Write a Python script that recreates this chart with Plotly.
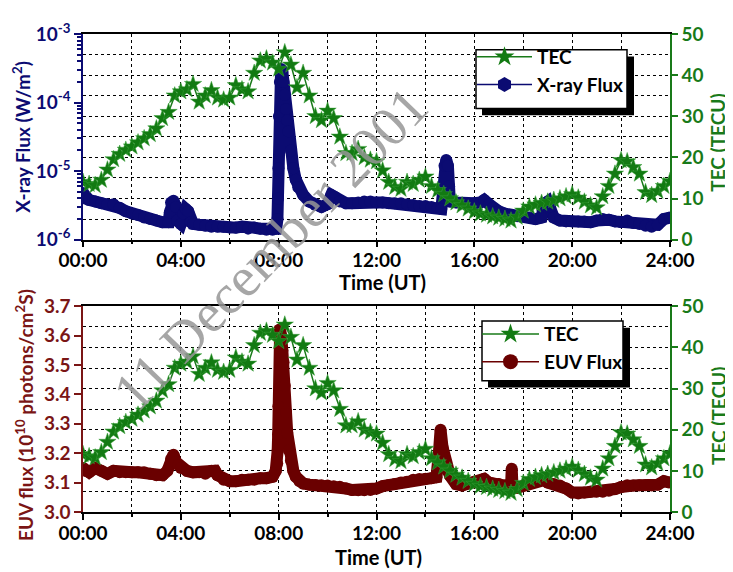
import plotly.graph_objects as go

# ---------------- data ----------------
tec_time = [i * 0.25 for i in range(97)]
tec_values = [
    14.0, 13.5, 13.2, 14.5, 17.0, 19.5, 20.8, 21.8, 22.6, 23.6, 24.6, 25.6,
    27.0, 29.5, 31.0, 35.0, 36.0, 36.5, 37.8, 33.5, 35.0, 36.3, 34.5, 34.0,
    34.5, 37.5, 36.5, 36.0, 40.5, 43.5, 44.0, 43.0, 41.5, 45.5, 42.5, 37.0,
    40.5, 35.0, 30.0, 29.0, 31.3, 29.5, 25.0, 21.0, 21.0, 22.0, 20.0, 19.4,
    19.0, 16.8, 14.0, 12.8, 12.3, 14.0, 13.5, 14.5, 15.3, 13.0, 12.0, 11.0,
    10.0, 9.0, 8.3, 7.5, 6.8, 6.3, 6.0, 5.6, 5.3, 5.0, 4.6, 5.5,
    7.0, 8.0, 8.5, 8.9, 9.2, 9.6, 10.0, 10.5, 11.0, 10.2, 9.2, 8.3,
    7.8, 10.5, 13.0, 16.0, 19.3, 19.0, 17.6, 16.0, 11.5, 10.8, 11.8, 13.0,
    14.2,
]

xray_time = [
    0.0, 0.1, 0.25, 0.5, 0.75, 1.0, 1.25, 1.5, 1.75, 2.0, 2.25, 2.5, 2.75,
    3.0, 3.25, 3.5, 3.55, 3.6, 3.7, 3.8, 3.85, 4.0, 4.1, 4.2, 4.3, 4.4, 4.5,
    4.75, 5.0, 5.25, 5.5, 5.75, 6.0, 6.25, 6.5, 6.75, 7.0, 7.25, 7.5, 7.75,
    7.9, 7.95, 7.97, 7.99, 8.01, 8.05, 8.1, 8.15, 8.2, 8.25, 8.3, 8.35, 8.4,
    8.5, 8.6, 8.7, 8.8, 9.0, 9.25, 9.5, 9.75, 10.0, 10.15, 10.3, 10.5, 10.75,
    11.0, 11.25, 11.5, 11.75, 12.0, 12.25, 12.5, 12.75, 13.0, 13.25, 13.5,
    13.75, 14.0, 14.25, 14.5, 14.65, 14.72, 14.78, 14.85, 14.92, 14.97, 15.0,
    15.25, 15.5, 15.75, 16.0, 16.25, 16.4, 16.6, 16.75, 17.0, 17.25, 17.5,
    17.75, 18.0, 18.25, 18.5, 18.75, 18.85, 19.0, 19.1, 19.25, 19.5, 19.75,
    20.0, 20.25, 20.5, 20.75, 21.0, 21.25, 21.5, 21.75, 22.0, 22.25, 22.5,
    22.75, 23.0, 23.25, 23.5, 23.75, 24.0,
]
xray_flux = [
    4.8e-6, 4.0e-6, 3.8e-6, 3.6e-6, 3.4e-6, 3.3e-6, 3.3e-6, 2.9e-6, 2.6e-6,
    2.4e-6, 2.3e-6, 2.1e-6, 2.0e-6, 1.9e-6, 1.8e-6, 1.8e-6, 2.5e-6, 3.5e-6,
    3.7e-6, 3.0e-6, 1.9e-6, 1.7e-6, 2.4e-6, 2.8e-6, 2.6e-6, 1.8e-6, 1.7e-6,
    1.65e-6, 1.6e-6, 1.55e-6, 1.55e-6, 1.55e-6, 1.5e-6, 1.5e-6, 1.55e-6,
    1.45e-6, 1.5e-6, 1.45e-6, 1.4e-6, 1.4e-6, 1.45e-6, 2.0e-6, 4.0e-6,
    1.1e-5, 6.3e-5, 2.0e-4, 3.1e-4, 2.8e-4, 2.0e-4, 1.3e-4, 8e-5, 5.5e-5,
    3.8e-5, 2e-5, 1.1e-5, 7.5e-6, 5.8e-6, 4.5e-6, 3.6e-6, 3.2e-6, 3.0e-6,
    3.3e-6, 4.5e-6, 4.2e-6, 3.6e-6, 3.4e-6, 3.4e-6, 3.5e-6, 3.6e-6, 3.6e-6,
    3.5e-6, 3.5e-6, 3.4e-6, 3.4e-6, 3.4e-6, 3.3e-6, 3.2e-6, 3.1e-6, 3.1e-6,
    3.0e-6, 2.9e-6, 2.8e-6, 5e-6, 1.2e-5, 1.45e-5, 1.2e-5, 6e-6, 3.6e-6,
    3.5e-6, 3.4e-6, 3.3e-6, 3.4e-6, 3.5e-6, 3.8e-6, 3.3e-6, 2.9e-6, 2.6e-6,
    2.4e-6, 2.3e-6, 2.2e-6, 2.2e-6, 2.1e-6, 2.0e-6, 2.1e-6, 3.3e-6, 3.6e-6,
    3.0e-6, 2.1e-6, 1.9e-6, 1.85e-6, 1.85e-6, 1.85e-6, 1.85e-6, 1.8e-6,
    1.9e-6, 2.0e-6, 1.95e-6, 1.85e-6, 1.8e-6, 1.9e-6, 1.75e-6, 1.7e-6,
    1.6e-6, 1.55e-6, 1.65e-6, 2.0e-6, 2.1e-6,
]

euv_time = [
    0.0, 0.1, 0.25, 0.5, 0.75, 1.0, 1.25, 1.5, 1.75, 2.0, 2.25, 2.5, 2.75,
    3.0, 3.25, 3.45, 3.6, 3.7, 3.8, 3.9, 4.0, 4.25, 4.5, 4.75, 5.0, 5.25,
    5.4, 5.5, 5.75, 6.0, 6.25, 6.5, 6.75, 7.0, 7.25, 7.5, 7.75, 7.88, 7.94,
    7.96, 7.98, 7.99, 8.02, 8.06, 8.1, 8.15, 8.2, 8.25, 8.3, 8.35, 8.42, 8.5,
    8.6, 8.7, 8.85, 9.0, 9.25, 9.5, 9.75, 10.0, 10.25, 10.5, 10.75, 11.0,
    11.25, 11.5, 11.75, 12.0, 12.25, 12.5, 12.75, 13.0, 13.25, 13.5, 13.75,
    14.0, 14.25, 14.45, 14.55, 14.62, 14.7, 14.8, 14.9, 15.0, 15.25, 15.5,
    15.75, 16.0, 16.25, 16.4, 16.6, 16.75, 17.0, 17.25, 17.5, 17.53, 17.56,
    17.75, 18.0, 18.25, 18.5, 18.75, 18.9, 19.0, 19.25, 19.5, 19.75, 20.0,
    20.25, 20.5, 20.75, 21.0, 21.25, 21.5, 21.75, 22.0, 22.25, 22.5, 22.75,
    23.0, 23.25, 23.5, 23.75, 24.0,
]
euv_flux = [
    3.150, 3.140, 3.135, 3.150, 3.140, 3.130, 3.140, 3.135, 3.135, 3.135,
    3.135, 3.135, 3.130, 3.125, 3.125, 3.140, 3.180, 3.195, 3.170, 3.160,
    3.150, 3.140, 3.135, 3.135, 3.130, 3.140, 3.140, 3.125, 3.110, 3.105,
    3.105, 3.110, 3.110, 3.110, 3.115, 3.115, 3.120, 3.140, 3.165, 3.210,
    3.265, 3.360, 3.620, 3.620, 3.600, 3.550, 3.510, 3.430, 3.340, 3.270,
    3.210, 3.175, 3.140, 3.120, 3.105, 3.097, 3.093, 3.092, 3.091, 3.090,
    3.088, 3.086, 3.080, 3.075, 3.074, 3.074, 3.075, 3.080, 3.088, 3.092,
    3.095, 3.100, 3.103, 3.110, 3.112, 3.113, 3.115, 3.118, 3.200, 3.280,
    3.220, 3.170, 3.140, 3.124, 3.095, 3.090, 3.097, 3.100, 3.105, 3.113,
    3.100, 3.097, 3.095, 3.090, 3.086, 3.147, 3.086, 3.082, 3.090, 3.097,
    3.105, 3.113, 3.110, 3.100, 3.095, 3.090, 3.080, 3.066, 3.063, 3.066,
    3.069, 3.069, 3.069, 3.072, 3.078, 3.085, 3.091, 3.090, 3.091, 3.091,
    3.090, 3.093, 3.105, 3.100,
]

hour_ticks = [0, 4, 8, 12, 16, 20, 24]
hour_labels = ["00:00", "04:00", "08:00", "12:00", "16:00", "20:00", "24:00"]
hour_minor = [2, 6, 10, 14, 18, 22]
xray_ticks = [1e-6, 1e-5, 1e-4, 1e-3]
xray_labels = ["10<sup>-6</sup>", "10<sup>-5</sup>", "10<sup>-4</sup>", "10<sup>-3</sup>"]
xray_minor = [m * 10.0 ** e for e in (-6, -5, -4) for m in range(2, 10)]

# ---------------- geometry (page pixels; page body has an 8px margin) ----------------
OFF = 8
W, H = 733 - OFF, 572 - OFF
ML, MR, MT, MB = 83 - OFF, 733 - 670, 24 - OFF, 572 - 512
PW, PH = 670 - 83, 512 - 24

def px(x):
    return (x - 83) / PW

def py(y):
    return (512 - y) / PH

NAVY = "#0b0b72"
GREEN = "#197a19"
STAR = "#127a12"
MAROON = "#6a0000"
MAROON_T = "#7a1515"
FONT = "Lato"

fig = go.Figure()

# top panel
fig.add_trace(go.Scatter(x=xray_time, y=xray_flux, mode="lines+markers",
                         line=dict(color=NAVY, width=12),
                         marker=dict(symbol="circle", size=12, color=NAVY),
                         showlegend=False, xaxis="x", yaxis="y"))
fig.add_trace(go.Scatter(x=tec_time, y=tec_values, mode="lines+markers",
                         line=dict(color=GREEN, width=1.5),
                         marker=dict(symbol="star", size=13, color=STAR,
                                     line=dict(color="#3aa03a", width=0.5)),
                         showlegend=False, xaxis="x", yaxis="y2"))
# bottom panel
fig.add_trace(go.Scatter(x=euv_time, y=euv_flux, mode="lines+markers",
                         line=dict(color=MAROON, width=12),
                         marker=dict(symbol="circle", size=12, color=MAROON),
                         showlegend=False, xaxis="x2", yaxis="y3"))
fig.add_trace(go.Scatter(x=tec_time, y=tec_values, mode="lines+markers",
                         line=dict(color=GREEN, width=1.5),
                         marker=dict(symbol="star", size=13, color=STAR,
                                     line=dict(color="#3aa03a", width=0.5)),
                         showlegend=False, xaxis="x2", yaxis="y4"))

# legend entries
fig.add_trace(go.Scatter(x=[None], y=[None], mode="lines+markers", name="TEC",
                         line=dict(color=GREEN, width=1.5),
                         marker=dict(symbol="star", size=15, color=STAR),
                         legend="legend", xaxis="x", yaxis="y2"))
fig.add_trace(go.Scatter(x=[None], y=[None], mode="lines+markers", name="X-ray Flux",
                         line=dict(color=NAVY, width=1.5),
                         marker=dict(symbol="hexagon", size=15, color=NAVY),
                         legend="legend", xaxis="x", yaxis="y"))
fig.add_trace(go.Scatter(x=[None], y=[None], mode="lines+markers", name="TEC",
                         line=dict(color=GREEN, width=1.5),
                         marker=dict(symbol="star", size=15, color=STAR),
                         legend="legend2", xaxis="x2", yaxis="y4"))
fig.add_trace(go.Scatter(x=[None], y=[None], mode="lines+markers", name="EUV Flux",
                         line=dict(color=MAROON, width=1.5),
                         marker=dict(symbol="circle", size=15, color=MAROON),
                         legend="legend2", xaxis="x2", yaxis="y3"))

top_dom = [py(234), py(24)]
bot_dom = [py(512), py(302)]

tickfont_black = dict(family=FONT, size=19, color="black", weight="bold")

def xaxis_cfg(anchor):
    return dict(domain=[0, 1], anchor=anchor, range=[0, 24],
                tickmode="array", tickvals=hour_ticks, ticktext=hour_labels,
                tickfont=tickfont_black, ticks="outside", ticklen=6, tickwidth=1.5,
                tickcolor="black", showline=True, linecolor="black", linewidth=1.5,
                mirror=True, showgrid=True, gridcolor="black", griddash="dot",
                gridwidth=1, zeroline=False, ticklabelstandoff=-3,
                minor=dict(tickmode="array", tickvals=hour_minor, showgrid=True,
                           gridcolor="black", griddash="dot", gridwidth=1,
                           ticks="outside", ticklen=3, tickcolor="black"))

def tec_cfg(overlay):
    return dict(overlaying=overlay, side="right", range=[0, 50], dtick=10, tick0=0,
                tickfont=dict(family=FONT, size=19, color=GREEN, weight="bold"),
                ticks="outside", ticklen=6, tickwidth=1.5, tickcolor=GREEN,
                showline=True, linecolor=GREEN, linewidth=1.5,
                showgrid=True, gridcolor="black", griddash="dot", gridwidth=1,
                zeroline=False,
                minor=dict(dtick=5, tick0=0, showgrid=True, gridcolor="black",
                           griddash="dot", gridwidth=1))

legend_font = dict(family=FONT, size=19, color="black", weight="bold")

fig.update_layout(
    width=W, height=H, margin=dict(l=ML, r=MR, t=MT, b=MB),
    paper_bgcolor="white", plot_bgcolor="white",
    xaxis=xaxis_cfg("y"),
    xaxis2=xaxis_cfg("y3"),
    yaxis=dict(domain=top_dom, anchor="x", type="log", range=[-6, -3],
               tickmode="array", tickvals=xray_ticks, ticktext=xray_labels,
               tickfont=dict(family=FONT, size=19, color=NAVY, weight="bold"),
               ticks="outside", ticklen=7, tickwidth=1.5, tickcolor=NAVY,
               showline=True, linecolor=NAVY, linewidth=1.5, showgrid=False,
               zeroline=False,
               minor=dict(tickmode="array", tickvals=xray_minor, ticks="outside",
                          ticklen=4, tickcolor=NAVY, showgrid=False)),
    yaxis2=tec_cfg("y"),
    yaxis3=dict(domain=bot_dom, anchor="x2", range=[3.0, 3.7], dtick=0.1, tick0=3.0,
                tickformat=".1f",
                tickfont=dict(family=FONT, size=19, color=MAROON_T, weight="bold"),
                ticks="outside", ticklen=7, tickwidth=1.5, tickcolor=MAROON_T,
                showline=True, linecolor=MAROON_T, linewidth=1.5, showgrid=False,
                zeroline=False),
    yaxis4=tec_cfg("y3"),
    legend=dict(x=px(472), y=py(28), xanchor="left", yanchor="top",
                bgcolor="rgba(0,0,0,0)", borderwidth=0, itemwidth=55,
                font=legend_font, tracegroupgap=0, traceorder="normal"),
    legend2=dict(x=px(477), y=py(311), xanchor="left", yanchor="top",
                 bgcolor="rgba(0,0,0,0)", borderwidth=0, itemwidth=57,
                 font=legend_font, tracegroupgap=0, traceorder="normal"),
)

# legend boxes with shadows
for (x0, y0, x1, y1) in [(476, 40, 627, 100), (482, 317, 623, 378)]:
    fig.add_shape(type="rect", xref="paper", yref="paper", layer="above",
                  x0=px(x0 + 6), x1=px(x1 + 7), y0=py(y1 + 7), y1=py(y0 + 7),
                  fillcolor="black", line=dict(width=0))
    fig.add_shape(type="rect", xref="paper", yref="paper", layer="above",
                  x0=px(x0), x1=px(x1), y0=py(y1), y1=py(y0),
                  fillcolor="white", line=dict(color="black", width=1.5))

title_font = dict(family=FONT, size=19, weight="bold")
annots = [
    dict(text="X-ray Flux (W/m<sup>2</sup>)", x=px(22), y=py(129), textangle=-90,
         font=dict(**title_font, color=NAVY)),
    dict(text="TEC (TECU)", x=px(718), y=py(135), textangle=-90,
         font=dict(**title_font, color=GREEN)),
    dict(text="Time (UT)", x=px(382), y=py(277),
         font=dict(family=FONT, size=20, weight="bold", color="black")),
    dict(text="EUV flux (10<sup>10</sup> photons/cm<sup>2</sup>S)", x=px(24), y=py(413),
         textangle=-90, font=dict(**title_font, color=MAROON_T)),
    dict(text="TEC (TECU)", x=px(718), y=py(414), textangle=-90,
         font=dict(**title_font, color=GREEN)),
    dict(text="Time (UT)", x=px(379), y=py(558),
         font=dict(family=FONT, size=20, weight="bold", color="black")),
    dict(text="11 December 2001", x=px(270), y=py(243), textangle=-46,
         font=dict(family="Liberation Serif", size=56, color="rgba(150,150,150,0.85)")),
]
for a in annots:
    fig.add_annotation(xref="paper", yref="paper", showarrow=False,
                       xanchor="center", yanchor="middle", **a)

fig.write_html("out.html")
